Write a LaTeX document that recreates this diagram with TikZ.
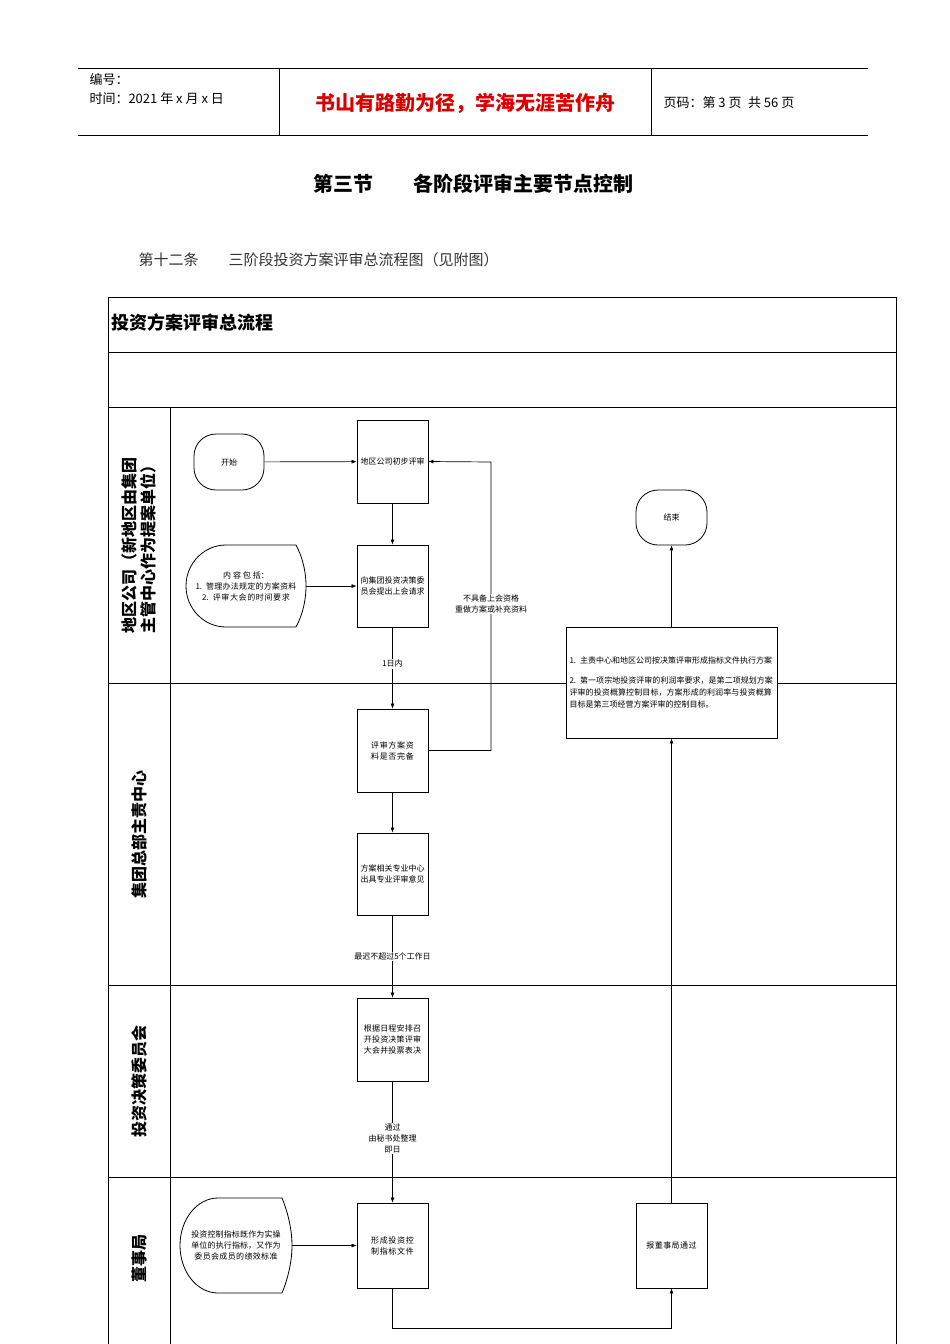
\documentclass[tikz,border=0pt]{standalone}
\usepackage{fontspec}
\setmainfont{Noto Sans CJK SC}
\XeTeXlinebreaklocale "zh"
\XeTeXlinebreakskip=0pt plus 1pt
\usetikzlibrary{arrows.meta}
\begin{document}
\begin{tikzpicture}[x=1pt,y=-1pt,
  box/.style={draw,fill=white,line width=0.8pt,minimum width=71pt,inner sep=1pt,align=center,font=\fontsize{8}{11}\selectfont,text width=64pt},
  lbl/.style={align=center,font=\fontsize{8}{11}\selectfont,fill=white,inner sep=1pt},
  arr/.style={-{Latex[length=5pt,width=4pt]},line width=0.7pt},
  lane/.style={rotate=90,font=\fontsize{16}{19}\selectfont\bfseries,align=center}]
\useasboundingbox (0,0) rectangle (950,1344);
\fill[white] (0,0) rectangle (950,1344);
% header
\draw[line width=0.6pt] (78,68)--(868,68) (78,135)--(868,135) (279,68)--(279,135) (651,68)--(651,135);
\node[anchor=west,font=\fontsize{13}{15}\selectfont] (h1) at (86,80) {编号：};
\node[anchor=west,font=\fontsize{13}{15}\selectfont] (h2) at (86,99) {时间：2021 年 x 月 x 日};
\node[font=\fontsize{20}{22}\selectfont\bfseries,text=red!85!black] (h3) at (465,103) {书山有路勤为径，学海无涯苦作舟};
\node[anchor=west,font=\fontsize{13}{15}\selectfont] (h4) at (660,103) {页码：第 3 页\enspace 共 56 页};
\node[font=\fontsize{20}{22}\selectfont\bfseries] (t1) at (473,184) {第三节\qquad 各阶段评审主要节点控制};
\node[anchor=west,font=\fontsize{15}{17}\selectfont,text=black!80] (t2) at (135,260) {第十二条\qquad 三阶段投资方案评审总流程图（见附图）};
% frame
\draw[line width=1pt] (108,1344)--(108,297)--(896,297)--(896,1344);
\draw[line width=1pt] (108,352)--(896,352) (108,407)--(896,407) (108,683)--(896,683) (108,985)--(896,985) (108,1177)--(896,1177) (170,407)--(170,1344);
\node[anchor=west,font=\fontsize{18}{20}\selectfont\bfseries] (ft) at (108,323) {投资方案评审总流程};
\node[lane] (l1) at (139,545) {地区公司（新地区由集团\\主管中心作为提案单位）};
\node[lane] (l2) at (139,834) {集团总部主责中心};
\node[lane] (l3) at (139,1081) {投资决策委员会};
\node[lane] (l4) at (139,1258) {董事局};
% nodes
\node[draw,line width=0.8pt,rounded corners=22pt,minimum width=70pt,minimum height=56pt,font=\fontsize{8}{11}\selectfont] (st) at (229,462) {开始};
\node[box,minimum height=83pt] (A) at (392.5,461.5) {地区公司初步评审};
\node[box,minimum height=82pt] (B) at (392.5,586) {向集团投资决策委员会提出上会请求};
\node[box,minimum height=83pt] (C) at (392.5,750.5) {评审方案资料是否完备};
\node[box,minimum height=82pt] (D) at (392.5,874) {方案相关专业中心出具专业评审意见};
\node[box,minimum height=83pt] (E) at (392.5,1039.5) {根据日程安排召开投资决策评审大会并投票表决};
\node[box,minimum height=85pt] (F) at (392.5,1245.5) {形成投资控制指标文件};
\node[box,minimum height=85pt] (G) at (671.5,1245.5) {报董事局通过};
\node[draw,line width=0.8pt,rounded corners=22pt,minimum width=71pt,minimum height=55pt,font=\fontsize{8}{11}\selectfont] (en) at (671.5,517.5) {结束};
\node[draw,fill=white,line width=0.8pt,minimum width=211pt,minimum height=111pt,align=left,text width=204pt,inner sep=3pt,font=\fontsize{8}{12}\selectfont] (H) at (671.5,682.5) {1. 主责中心和地区公司按决策评审形成指标文件执行方案\\[8pt]2. 第一项宗地投资评审的利润率要求，是第二项规划方案评审的投资概算控制目标，方案形成的利润率与投资概算目标是第三项经营方案评审的控制目标。};
% display shapes
\draw[line width=0.8pt] (296,627)--(226,627) arc[start angle=90,end angle=270,x radius=40,y radius=41]--(296,545) .. controls (304,560) and (306,575) .. (306,586) .. controls (306,597) and (304,612) .. (296,627);
\node[align=center,font=\fontsize{8}{11}\selectfont,text width=108pt] (N1) at (246,586) {内容包括：\\1. 管理办法规定的方案资料\\2. 评审大会的时间要求};
\coordinate (N1e) at (306,586);
\draw[line width=0.8pt] (282,1293)--(218,1293) arc[start angle=90,end angle=270,x radius=38,y radius=47.5]--(282,1198) .. controls (289,1215) and (292,1232) .. (292,1245.5) .. controls (292,1259) and (289,1276) .. (282,1293);
\node[align=center,font=\fontsize{8}{11}\selectfont,text width=94pt] (N2) at (236,1245.5) {投资控制指标既作为实操单位的执行指标，又作为委员会成员的绩效标准};
\coordinate (N2e) at (292,1245.5);
% connectors
\draw[arr] (st) -- (A);
\draw[arr] (A) -- (B);
\draw[arr] (N1e) -- (B);
\draw[arr] (B) -- node[lbl,pos=0.45]{1日内} (C);
\draw[arr] (C.east) -- (491,750.5) -- (491,462) -- (A.east);
\node[lbl] (lp) at (491,604) {不具备上会资格\\重做方案或补充资料};
\draw[arr] (C) -- (D);
\draw[arr] (D) -- node[lbl,pos=0.5]{最迟不超过5个工作日} (E);
\draw[arr] (E) -- node[lbl,pos=0.47]{通过\\由秘书处整理\\即日} (F);
\draw[arr] (N2e) -- (F);
\draw[arr] (F.south) -- (392.5,1328) -- (671.5,1328) -- (G.south);
\draw[arr] (G) -- (H);
\draw[arr] (H) -- (en);
\end{tikzpicture}
\end{document}
